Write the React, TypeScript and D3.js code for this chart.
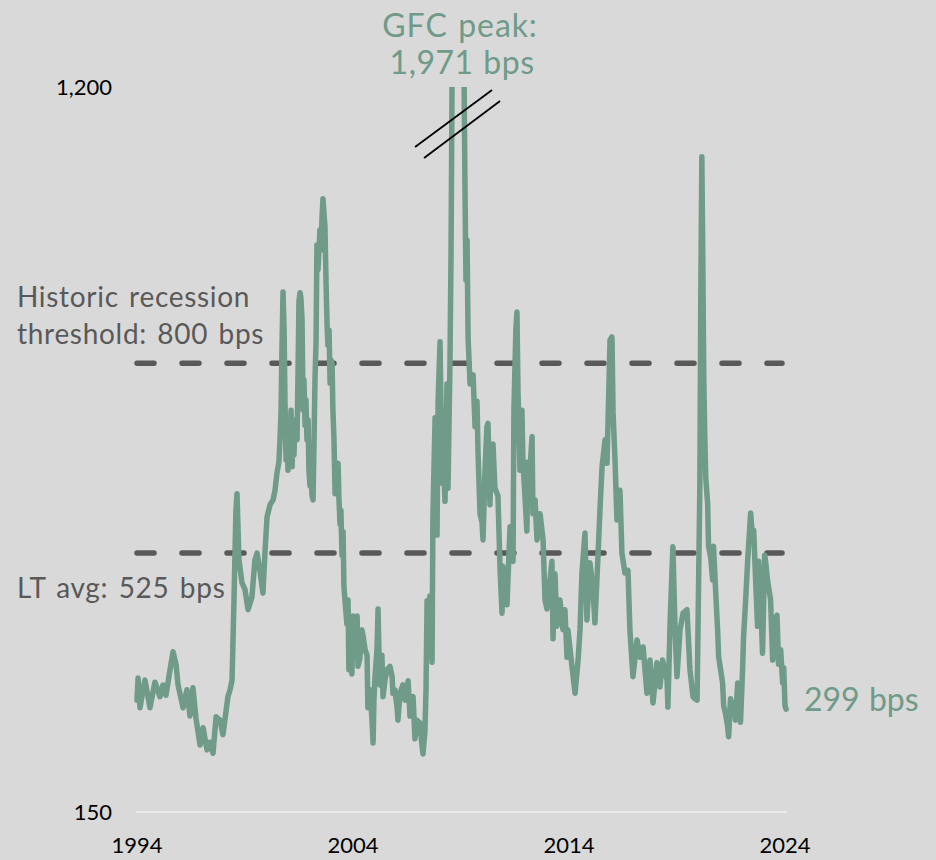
import React from "react";
import * as d3 from "d3";

// ---- Data (ICE BofA US HY OAS, bps; decimal year) ----
const dates: number[] = [
  1994.00,1994.05,1994.14,1994.28,1994.37,1994.60,1994.83,1995.06,1995.20,1995.34,1995.53,1995.67,1995.81,1995.90,
  1996.13,1996.31,1996.45,1996.59,1996.73,1996.92,1997.06,1997.24,1997.38,1997.52,1997.66,1997.84,1997.98,1998.21,1998.31,
  1998.40,1998.49,1998.58,1998.63,1998.72,1998.86,1999.00,1999.14,1999.32,1999.46,1999.56,1999.69,1999.83,1999.93,
  2000.02,2000.16,2000.30,2000.39,2000.48,2000.57,2000.62,2000.67,2000.71,2000.76,2000.81,2000.85,2000.90,2000.94,2000.99,
  2001.04,2001.08,2001.13,2001.18,2001.22,2001.27,2001.31,2001.41,2001.45,2001.50,2001.55,2001.59,2001.64,2001.69,2001.73,
  2001.78,2001.82,2001.87,2001.92,2001.96,2002.01,2002.06,2002.10,2002.15,2002.19,2002.24,2002.29,2002.33,2002.38,2002.47,
  2002.52,2002.56,2002.61,2002.66,2002.70,2002.75,2002.80,2002.84,2002.89,2002.94,2002.98,2003.03,2003.07,2003.12,2003.17,
  2003.21,2003.31,2003.35,2003.40,2003.44,2003.49,2003.54,2003.58,2003.63,2003.72,2003.77,2003.81,2003.86,2003.95,2004.00,
  2004.09,2004.19,2004.23,2004.32,2004.41,2004.46,2004.56,2004.65,2004.69,2004.79,2004.88,2004.93,2004.97,2005.02,2005.11,
  2005.16,2005.20,2005.25,2005.34,2005.39,2005.48,2005.57,2005.71,2005.81,2005.85,2005.94,2006.04,2006.08,2006.18,2006.31,
  2006.41,2006.50,2006.55,2006.64,2006.73,2006.78,2006.87,2006.96,2007.10,2007.19,2007.24,2007.33,2007.38,2007.43,2007.52,
  2007.56,2007.66,2007.70,2007.80,2007.89,2007.94,2008.03,2008.12,2008.17,2008.26,2008.35,2008.40,2008.49,2008.54,2008.63,
  2008.72,2008.81,2008.91,2009.00,2009.09,2009.19,2009.23,2009.28,2009.33,2009.42,2009.56,2009.65,2009.74,2009.79,2009.88,
  2009.97,2010.02,2010.11,2010.20,2010.25,2010.34,2010.39,2010.48,2010.57,2010.71,2010.81,2010.90,2010.94,2011.04,2011.13,
  2011.27,2011.36,2011.41,2011.45,2011.54,2011.59,2011.64,2011.73,2011.82,2011.87,2011.96,2012.05,2012.10,2012.19,2012.29,
  2012.33,2012.43,2012.52,2012.66,2012.80,2012.89,2012.98,2013.12,2013.21,2013.26,2013.35,2013.44,2013.58,2013.72,2013.81,
  2013.91,2013.95,2014.05,2014.14,2014.28,2014.42,2014.51,2014.60,2014.74,2014.83,2014.97,2015.11,2015.20,2015.34,2015.44,
  2015.53,2015.67,2015.76,2015.81,2015.90,2015.99,2016.04,2016.13,2016.22,2016.36,2016.45,2016.59,2016.73,2016.82,2016.96,
  2017.15,2017.29,2017.43,2017.61,2017.75,2017.89,2018.07,2018.21,2018.33,2018.54,2018.58,2018.68,2018.81,2018.91,2019.00,
  2019.14,2019.28,2019.46,2019.60,2019.74,2019.83,2019.93,2020.06,2020.10,2020.15,2020.19,2020.24,2020.28,2020.33,2020.42,
  2020.46,2020.56,2020.65,2020.69,2020.79,2020.88,2020.93,2021.02,2021.11,2021.16,2021.25,2021.34,2021.39,2021.48,2021.57,
  2021.62,2021.71,2021.81,2021.94,2022.04,2022.08,2022.18,2022.27,2022.36,2022.41,2022.50,2022.55,2022.64,2022.73,2022.78,
  2022.87,2022.96,2023.06,2023.10,2023.19,2023.33,2023.43,2023.56,2023.63,2023.70,2023.80,2023.89,2023.94,2024.00,2024.05,
];
const spreads: number[] = [
  312,344,301,327,341,301,338,317,334,319,356,382,363,334,
  301,327,289,330,286,247,272,240,251,235,288,283,262,317,327,
  341,457,587,611,515,482,472,443,461,515,525,500,467,529,
  577,595,602,616,641,657,689,732,819,903,848,747,660,718,645,
  703,660,732,650,703,667,718,689,776,891,902,894,863,732,776,
  710,747,689,718,645,622,660,609,602,674,776,832,971,935,993,
  964,1007,1038,1015,999,920,855,826,848,771,805,799,732,689,611,
  645,655,602,567,587,522,556,477,456,422,457,356,399,350,434,
  399,434,361,373,414,406,385,377,301,327,283,250,312,346,385,
  444,385,334,377,317,341,356,361,346,322,327,301,283,322,334,
  312,317,340,289,312,317,256,283,279,247,234,267,327,456,414,
  463,367,577,721,551,745,831,626,674,600,770,619,802,964,1450,
  1750,1850,1971,1800,1400,1036,920,978,834,770,783,708,745,670,582,
  570,544,645,708,713,595,645,683,619,608,500,438,506,472,450,
  563,515,513,732,848,874,758,645,732,657,608,557,657,645,694,
  582,602,544,582,544,457,444,486,513,401,495,419,457,414,443,
  374,414,385,360,322,370,414,496,554,428,511,472,424,519,592,
  650,689,655,718,834,838,728,660,573,616,525,496,500,414,346,
  399,374,389,322,370,308,366,331,370,341,302,424,534,414,346,
  414,438,443,356,317,314,312,629,891,1099,964,780,703,635,596,
  535,519,486,535,469,414,374,356,337,304,292,275,259,314,298,
  308,283,337,280,359,403,458,513,558,583,544,558,486,419,513,
  457,380,522,513,486,458,370,431,435,364,385,337,359,304,299,
];
const yTicks: number[] = [150, 1200];
const xTicks: number[] = [1994, 2004, 2014, 2024];
const thresholds: number[] = [800, 525];
const gfcPeakDate = 2008.91;
const gfcPeakValue = 1971;
const lastValue = 299;

const W = 936, H = 860;
const GREEN = "#6f9b88";
const GREY = "#595959";
const FONT = "Lato, 'Open Sans', sans-serif";

export default function App() {
  const x = d3.scaleLinear().domain([1994, 2024]).range([137, 785]);
  const y = d3.scaleLinear().domain([150, 1200]).range([812, 87]);
  const pts = dates.map((d, i) => [d, spreads[i]] as [number, number]);
  const line = d3.line<[number, number]>().x(d => x(d[0])).y(d => y(d[1]));
  const fmt = d3.format(",");
  const gx = x(gfcPeakDate);
  const grey = { fontSize: 28, fill: GREY, letterSpacing: 0.7, wordSpacing: 2.5 } as const;
  const green = { fontSize: 32, fill: GREEN, letterSpacing: 0.7, wordSpacing: 1.5 } as const;

  return (
    <svg width={W} height={H} style={{ position: "absolute", left: 0, top: 0 }} fontFamily={FONT}>
      <rect width={W} height={H} fill="#d9d9d9" />
      <defs>
        <clipPath id="plot">
          <rect x={0} y={y(1200)} width={W} height={H} />
        </clipPath>
      </defs>
      {/* baseline */}
      <line x1={x(1994) - 1} x2={x(2024) + 2} y1={y(150)} y2={y(150)} stroke="#ececec" strokeWidth={2} />
      {/* y labels */}
      {yTicks.map(t => (
        <text key={t} x={112} y={y(t)} dy="0.35em" textAnchor="end" fontSize={22} fill="#000">{fmt(t)}</text>
      ))}
      {xTicks.map(t => (
        <text key={t} x={x(t)} y={853} textAnchor="middle" fontSize={22} fill="#000">{t}</text>
      ))}
      {/* threshold lines */}
      {thresholds.map(t => (
        <line key={t} x1={x(1994)} x2={782} y1={y(t)} y2={y(t)} stroke={GREY} strokeWidth={5.5}
          strokeDasharray="17 28" strokeLinecap="round" />
      ))}
      {/* series */}
      <path d={line(pts) || ""} fill="none" stroke={GREEN} strokeWidth={5.5} strokeLinejoin="round"
        strokeLinecap="round" clipPath="url(#plot)" />
      {/* axis break marks */}
      <line x1={gx - 44} y1={147} x2={gx + 33} y2={90} stroke="#000" strokeWidth={1.8} />
      <line x1={gx - 35} y1={158} x2={gx + 41} y2={101} stroke="#000" strokeWidth={1.8} />
      {/* annotations */}
      <text x={gx + 1} y={37} textAnchor="middle" style={{ ...green, letterSpacing: 0.9 }}>GFC peak:</text>
      <text x={gx + 3} y={74} textAnchor="middle" style={{ ...green, letterSpacing: 0.5, wordSpacing: 1 }}>{fmt(gfcPeakValue)} bps</text>
      <text x={17} y={307} style={grey}>Historic recession</text>
      <text x={17} y={344} style={grey}>threshold: {thresholds[0]} bps</text>
      <text x={17} y={598} style={grey}>LT avg: {thresholds[1]} bps</text>
      <text x={804} y={711} style={{ ...green, letterSpacing: 0, wordSpacing: 1 }}>{lastValue} bps</text>
    </svg>
  );
}
